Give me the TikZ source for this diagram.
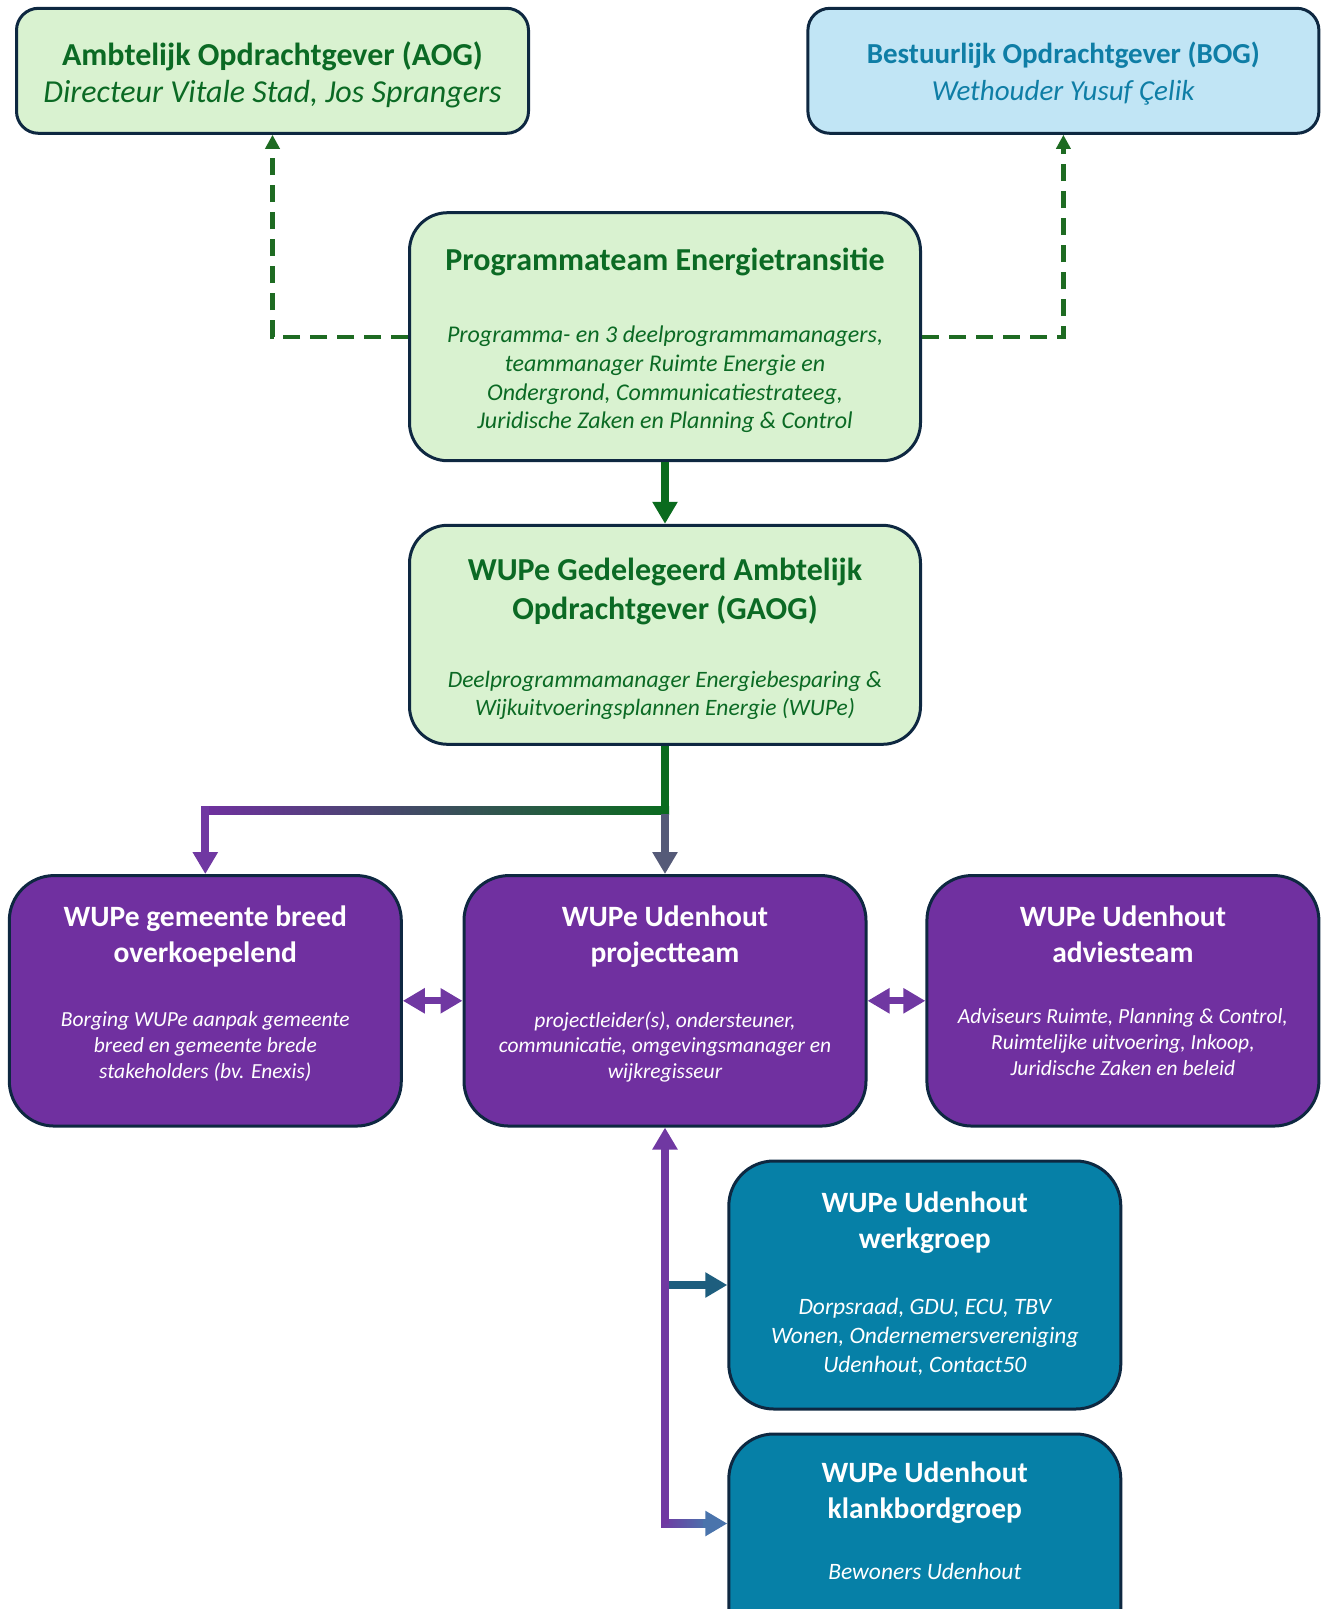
\documentclass[tikz,border=0pt]{standalone}
\usepackage{fontspec}
\setmainfont{Carlito}
\usetikzlibrary{arrows.meta,calc}
\definecolor{navy}{HTML}{0E2841}
\definecolor{lgreen}{HTML}{D9F2D0}
\definecolor{gtext}{HTML}{0B6A24}
\definecolor{lblue}{HTML}{C1E5F5}
\definecolor{btext}{HTML}{0F7EA6}
\definecolor{purp}{HTML}{7030A0}
\definecolor{tealbox}{HTML}{0680A7}
\definecolor{dgreen}{HTML}{1E6B22}
\definecolor{sgreen}{HTML}{0A6B1E}
\definecolor{pconn}{HTML}{7038A2}
\definecolor{wconn}{HTML}{1E5E7E}
\definecolor{kconn}{HTML}{4A74AC}
\definecolor{mconn}{HTML}{555A78}
\begin{document}
\begin{tikzpicture}[x=1pt,y=1pt,
  box/.style={draw=navy, line width=3pt, inner sep=0pt},
  gbox/.style={box, fill=lgreen, rounded corners=38pt},
  bbox/.style={box, fill=lblue, rounded corners=22pt},
  pbox/.style={box, fill=purp, rounded corners=45pt, minimum width=392pt, minimum height=250.5pt},
  tbox/.style={box, fill=tealbox, rounded corners=45pt, minimum width=392pt, minimum height=248pt},
  gtxt/.style={text=gtext, align=center, inner sep=0pt},
  btxt/.style={text=btext, align=center, inner sep=0pt},
  wtxt/.style={text=white, align=center, inner sep=0pt},
  ttl/.style={font=\fontsize{29.5}{36}\selectfont\bfseries},
  pbody/.style={font=\fontsize{21.5}{25.7}\selectfont\itshape},
  tbody/.style={font=\fontsize{23.5}{29}\selectfont\itshape},
  bigtip/.style={-{Triangle[width=24pt,length=22pt]}},
  dconn/.style={draw=dgreen, line width=4.2pt, dash pattern=on 17pt off 10pt, -{Triangle[width=14pt,length=14pt]}},
  sconn/.style={draw=sgreen, line width=8pt, bigtip},
  dbl/.style={draw=pconn, line width=7pt, {Triangle[width=24pt,length=22pt]}-{Triangle[width=24pt,length=22pt]}},
]
\useasboundingbox (0,0) rectangle (1322,-1609);

% top boxes
\node[gbox, rounded corners=22pt, minimum width=512pt, minimum height=125pt] (aog) at (272.5,-70.8) {};
\node[gtxt, font=\fontsize{32}{37}\selectfont] (aogt) at (272.5,-74.5) {\textbf{Ambtelijk Opdrachtgever (AOG)}\\\textit{Directeur Vitale Stad, Jos Sprangers}};

\node[bbox, minimum width=511pt, minimum height=125pt] (bog) at (1063.4,-70.8) {};
\node[btxt, font=\fontsize{29}{37}\selectfont] (bogt) at (1063.4,-73.5) {\textbf{Bestuurlijk Opdrachtgever (BOG)}\\\textit{Wethouder Yusuf Çelik}};

% programmateam
\node[gbox, minimum width=511pt, minimum height=248pt] (prog) at (665,-336.7) {};
\node[gtxt, font=\fontsize{32}{38}\selectfont\bfseries] (progt) at (665,-262.2) {Programmateam Energietransitie};
\node[gtxt, font=\fontsize{24}{28.7}\selectfont\itshape] (progb) at (665,-379.5) {Programma- en 3 deelprogrammamanagers,\\teammanager Ruimte Energie en\\Ondergrond, Communicatiestrateeg,\\Juridische Zaken en Planning \& Control};

% GAOG
\node[gbox, minimum width=511pt, minimum height=219pt] (gaog) at (665,-634.8) {};
\node[gtxt, font=\fontsize{32}{39}\selectfont\bfseries] (gaogt) at (665,-591.7) {WUPe Gedelegeerd Ambtelijk\\Opdrachtgever (GAOG)};
\node[gtxt, font=\fontsize{23.5}{28.7}\selectfont\itshape] (gaogb) at (665,-695.4) {Deelprogrammamanager Energiebesparing \&\\Wijkuitvoeringsplannen Energie (WUPe)};

% purple row
\node[pbox] (gem) at (205.3,-1000.8) {};
\node[wtxt, ttl] (gemt) at (205.3,-936.6) {WUPe gemeente breed\\overkoepelend};
\node[wtxt, pbody] (gemb) at (205.3,-1046.4) {Borging WUPe aanpak gemeente\\breed en gemeente brede\\stakeholders (bv. Enexis)};

\node[pbox, minimum width=402pt] (proj) at (665,-1000.8) {};
\node[wtxt, ttl] (projt) at (665,-937.1) {WUPe Udenhout\\projectteam};
\node[wtxt, pbody] (projb) at (665,-1046.9) {projectleider(s), ondersteuner,\\communicatie, omgevingsmanager en\\wijkregisseur};

\node[pbox] (advies) at (1122.9,-1000.8) {};
\node[wtxt, ttl] (adviest) at (1122.9,-934.3) {WUPe Udenhout\\adviesteam};
\node[wtxt, pbody] (adviesb) at (1122.9,-1042.3) {Adviseurs Ruimte, Planning \& Control,\\Ruimtelijke uitvoering, Inkoop,\\Juridische Zaken en beleid};

% teal boxes
\node[tbox] (werk) at (924.8,-1285) {};
\node[wtxt, ttl] (werkt) at (924.8,-1222.4) {WUPe Udenhout\\werkgroep};
\node[wtxt, tbody] (werkb) at (924.8,-1337.3) {Dorpsraad, GDU, ECU, TBV\\Wonen, Ondernemersvereniging\\Udenhout, Contact50};

\node[tbox] (klank) at (924.8,-1558) {};
\node[wtxt, ttl] (klankt) at (924.8,-1492.4) {WUPe Udenhout\\klankbordgroep};
\node[wtxt, tbody] (klankb) at (924.8,-1571.4) {Bewoners Udenhout};

% dashed reporting lines
\draw[dconn] (prog.west) -| (aog.south);
\draw[dconn] (prog.east) -| (bog.south);

% programmateam -> GAOG
\draw[sconn] (prog.south) -- (gaog.north);

% branch from GAOG
\coordinate (jy) at (0,-810);
\shade[left color=purp, right color=sgreen] ($(gem.north |- jy)+(-4,-4)$) rectangle ($(gaog.south |- jy)+(4,4)$);
\draw[draw=sgreen, line width=8pt] (gaog.south) -- ($(gaog.south |- jy)+(0,-4)$);
\draw[draw=pconn, line width=8pt, bigtip] ($(gem.north |- jy)+(0,4)$) -- (gem.north);
\draw[draw=mconn, line width=8pt, bigtip] ($(gaog.south |- jy)+(0,-4)$) -- (proj.north);

% double arrows
\draw[dbl] (gem.east) -- (proj.west);
\draw[dbl] (proj.east) -- (advies.west);

% lower connectors
\coordinate (ky) at (0,-1523.5);
\draw[draw=wconn, line width=8pt, bigtip] (proj.south |- werk.west) -- (werk.west);
\shade[left color=pconn, right color=kconn] ($(proj.south |- ky)+(-4,-4)$) rectangle ($(klank.west |- ky)+(-20,4)$);
\draw[draw=kconn, line width=8pt, bigtip] ($(klank.west |- ky)+(-24,0)$) -- (klank.west |- ky);
\draw[draw=pconn, line width=8pt, {Triangle[width=24pt,length=22pt]}-] (proj.south) -- (proj.south |- ky);
\end{tikzpicture}
\end{document}
